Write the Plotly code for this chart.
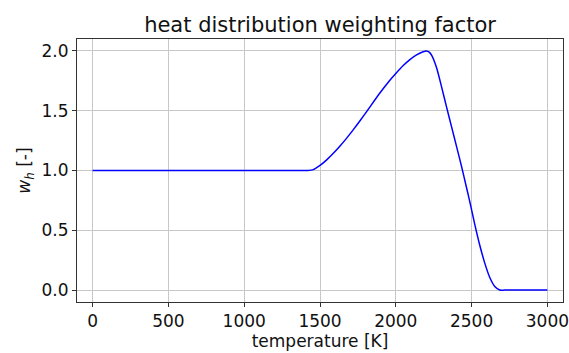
import plotly.graph_objects as go

# Heat distribution weighting factor w_h versus temperature
temperature = [0, 700, 1380, 1420, 1456, 1500, 1544, 1588, 1632, 1676, 1720, 1764,
               1810, 1895, 1961, 2000, 2049, 2093, 2137, 2181, 2203, 2220, 2236,
               2269, 2302, 2335, 2368, 2401, 2434, 2466, 2495, 2521, 2554, 2587,
               2620, 2653, 2686, 2720, 3000]
weight = [1.0, 1.0, 1.0, 1.0, 1.007, 1.042, 1.089, 1.144, 1.205, 1.271, 1.342, 1.416,
          1.497, 1.648, 1.755, 1.812, 1.878, 1.928, 1.967, 1.994, 2.0, 1.99, 1.965,
          1.86, 1.70, 1.53, 1.365, 1.20, 1.032, 0.86, 0.70, 0.55, 0.375, 0.225,
          0.105, 0.03, 0.0, 0.0, 0.0]

x_ticks = [0, 500, 1000, 1500, 2000, 2500, 3000]
y_ticks = [0.0, 0.5, 1.0, 1.5, 2.0]

FONT = "DejaVu Sans"

fig = go.Figure()
fig.add_trace(go.Scatter(
    x=temperature, y=weight, mode="lines",
    line=dict(color="#0000ff", width=1.5, shape="spline", smoothing=0.7),
    showlegend=False,
))

axis_common = dict(
    showline=True, linecolor="#333333", linewidth=1, mirror=True,
    showgrid=True, gridcolor="#c8c8c8", gridwidth=1,
    ticks="outside", ticklen=4, tickcolor="#333333", tickwidth=1,
    tickfont=dict(family=FONT, size=17, color="#111111"),
    ticklabeloverflow="allow",
    automargin=False,
    zeroline=False,
)

fig.update_layout(
    width=569, height=353,
    margin=dict(l=77, r=6, t=39, b=51, autoexpand=False),
    paper_bgcolor="white", plot_bgcolor="white",
    font=dict(family=FONT, color="#111111"),
    title=dict(text="heat distribution weighting factor",
               font=dict(family=FONT, size=21, color="#111111"),
               x=0.5625, xanchor="center", y=0.93, yanchor="middle"),
    xaxis=dict(range=[-103, 3103], tickvals=x_ticks,
               ticktext=[str(v) for v in x_ticks],
               title=dict(text="temperature [K]", font=dict(family=FONT, size=17),
                          standoff=1),
               **axis_common),
    yaxis=dict(range=[-0.1, 2.1], tickvals=y_ticks,
               ticktext=[f"{v:.1f}" for v in y_ticks],
               title=dict(text="<i>w</i><sub><i>h</i></sub> [-]",
                          font=dict(family=FONT, size=17), standoff=6),
               **axis_common),
)

fig.write_html("out.html")
